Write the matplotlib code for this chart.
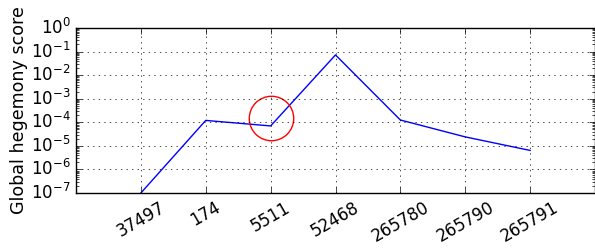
import matplotlib
matplotlib.use("Agg")
import matplotlib.pyplot as plt

plt.style.use("classic")

asns = ["37497", "174", "5511", "52468", "265780", "265790", "265791"]
scores = [1.0e-7, 1.2e-4, 7.0e-5, 7.2e-2, 1.25e-4, 2.4e-5, 6.4e-6]
highlight_asn = "5511"
highlight_score = 1.45e-4

fig = plt.figure(figsize=(5.95, 2.49), dpi=100, facecolor="white")
ax = fig.add_axes([76/595, 56/249, 519/595, 165/249])
x = list(range(len(asns)))
ax.plot(x, scores, color="b", lw=1)
hi = asns.index(highlight_asn)
ax.plot([hi], [highlight_score], "o", ms=32, mfc="none", mec="r", mew=1)
ax.set_yscale("log")
ax.set_ylim(1e-7, 1e0)
ax.set_xlim(-1, len(asns))
ax.set_xticks(x)
ax.set_xticklabels(asns, rotation=30)
ax.set_ylabel("Global hegemony score", fontsize=12.6, labelpad=2)
ax.grid(True)
fig.savefig("out.png", dpi=100, facecolor="white")
